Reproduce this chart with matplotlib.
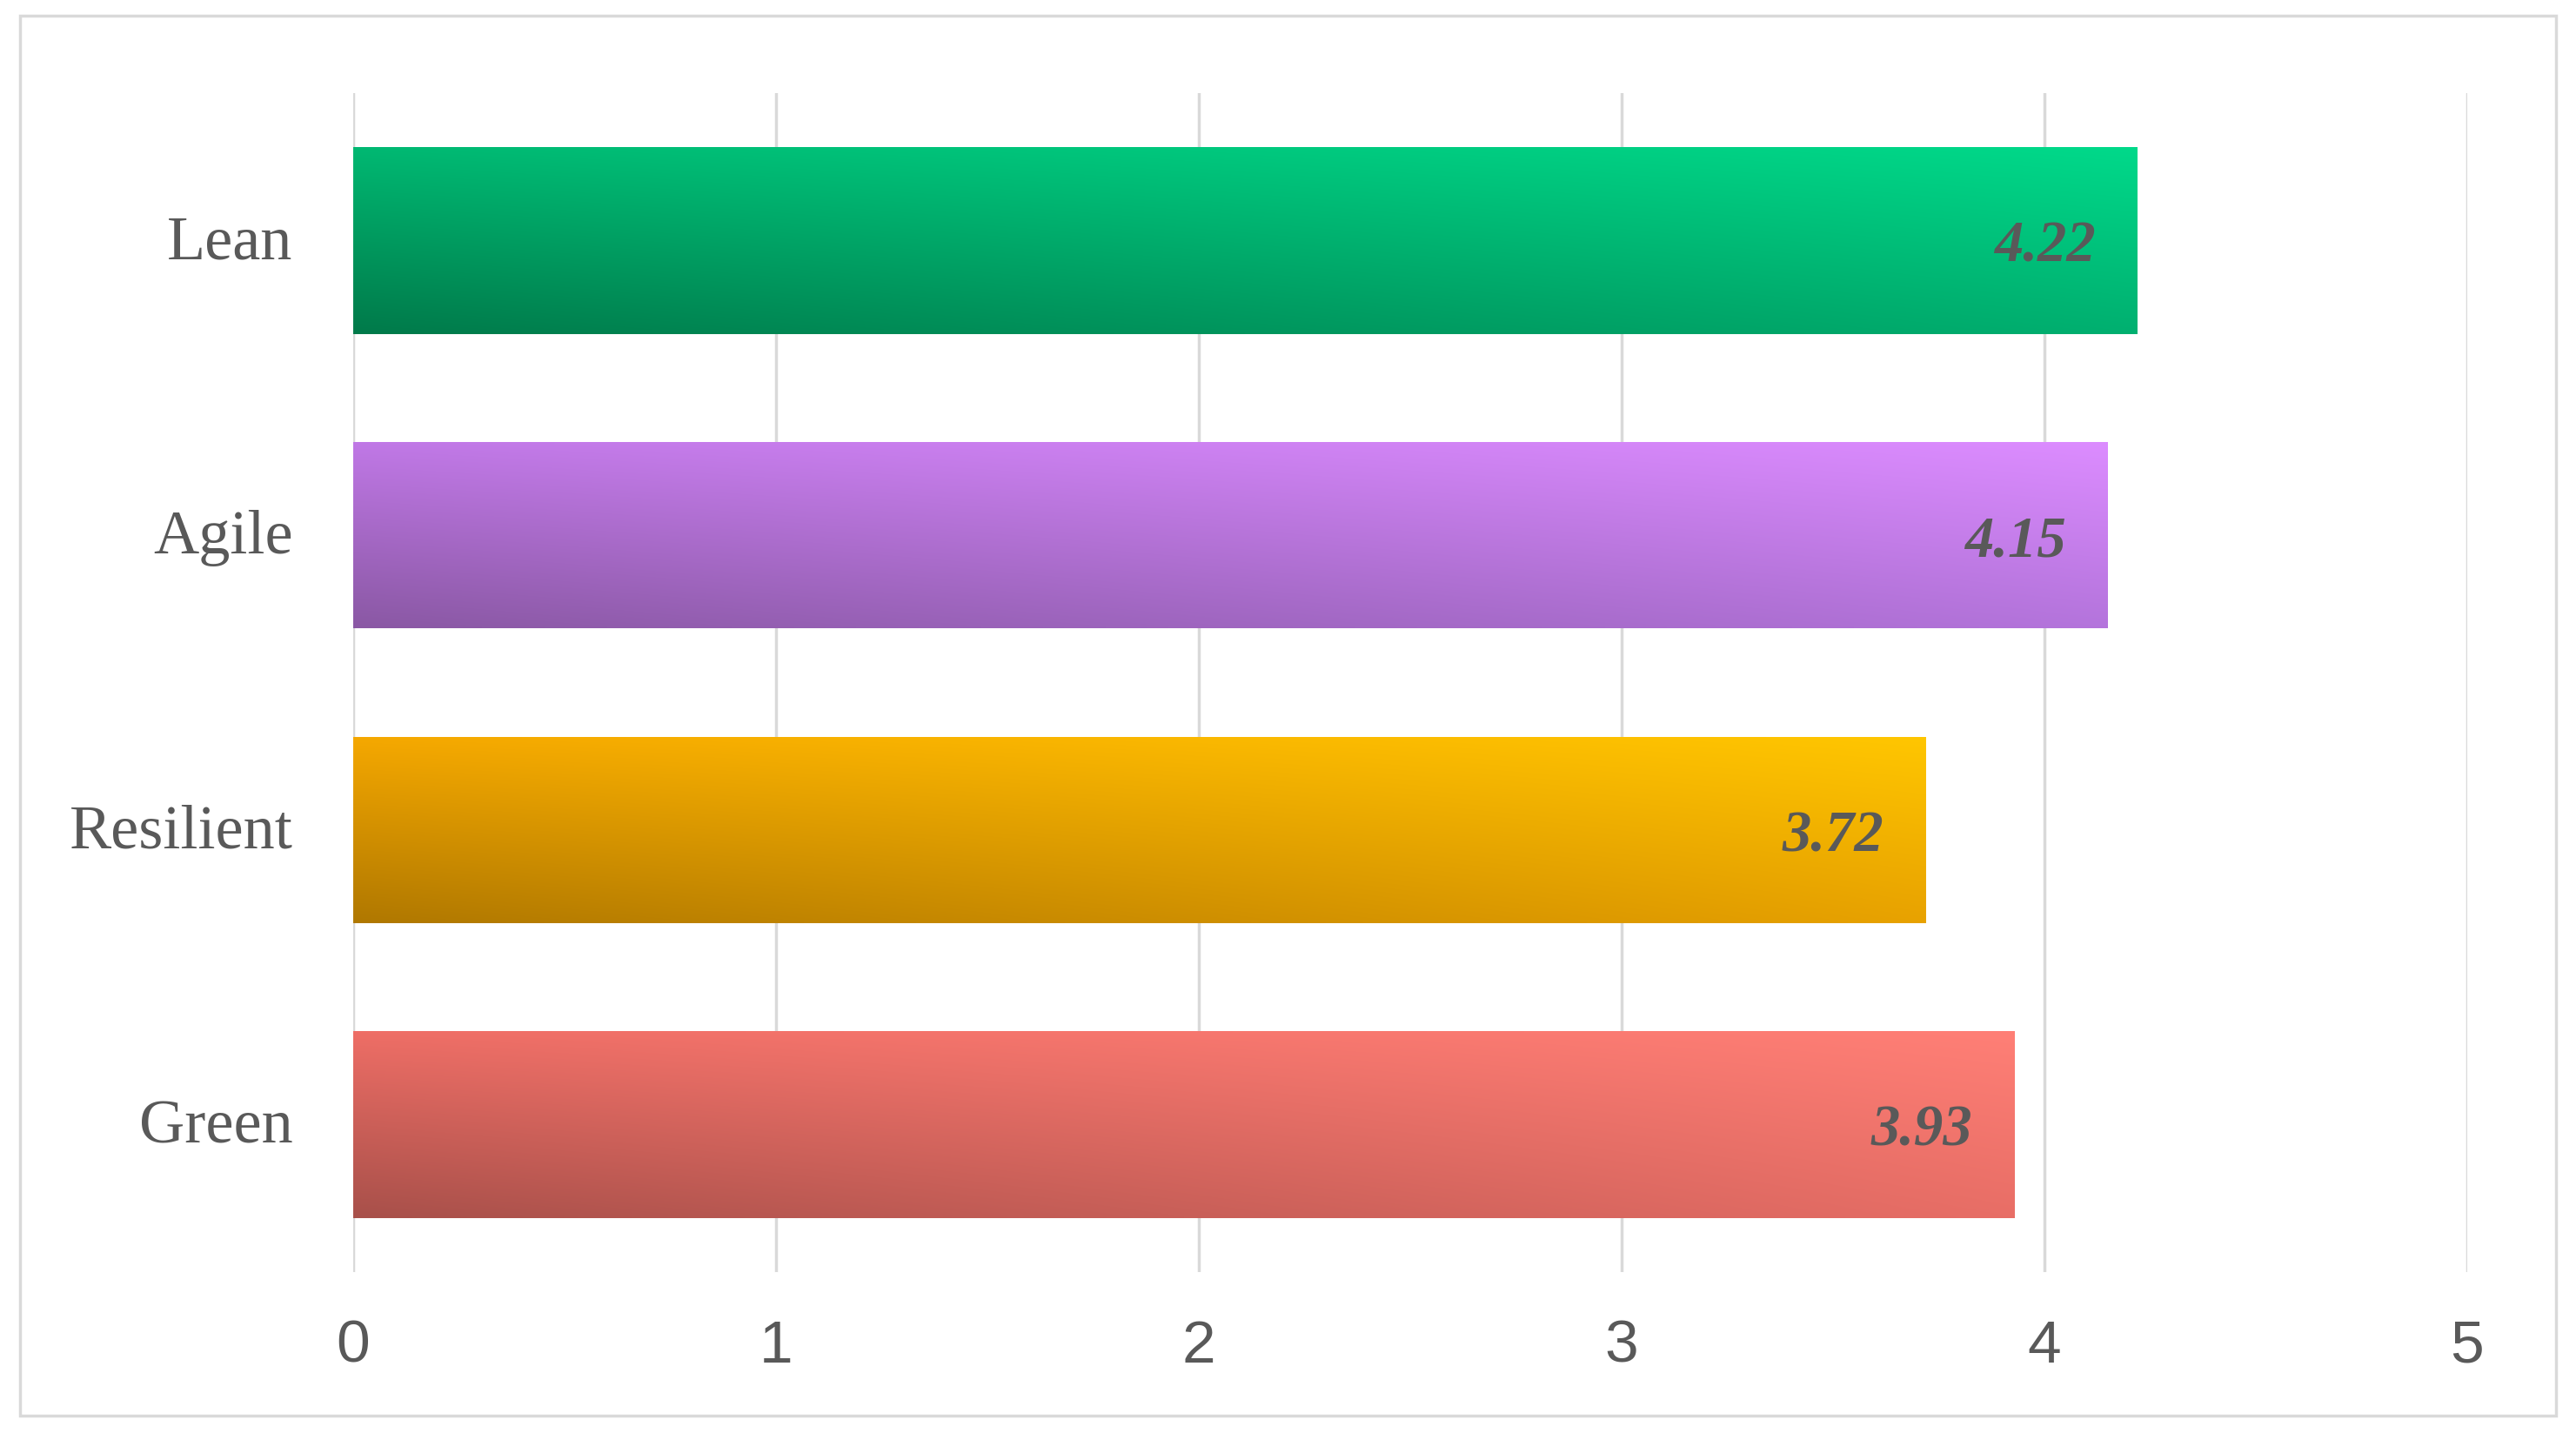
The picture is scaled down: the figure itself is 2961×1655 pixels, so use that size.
import matplotlib
matplotlib.use('Agg')
import matplotlib.pyplot as plt
import matplotlib.colors as mcolors
import numpy as np
from matplotlib.patches import Rectangle

# data
categories = ['Green', 'Resilient', 'Agile', 'Lean']
scores = [3.93, 3.72, 4.15, 4.22]
x_ticks = [0, 1, 2, 3, 4, 5]

# gradient corners per bar: top-left, top-right, bottom-left, bottom-right
corner_colors = {
    'Lean': ['#00b872', '#00d98a', '#007a4a', '#00b070'],
    'Agile': ['#c078e6', '#dc8cff', '#8a58a4', '#b474dc'],
    'Resilient': ['#f5a800', '#ffc600', '#b07800', '#e8a200'],
    'Green': ['#ee6e66', '#ff7f76', '#a8504a', '#e86e66'],
}

TEXT = '#595959'
GRID = '#d9d9d9'
BAR_H = 0.633


def gradient_image(corners, nx=200, ny=60):
    tl, tr, bl, br = [np.array(mcolors.to_rgb(c)) for c in corners]
    u = np.linspace(0, 1, nx)[None, :, None]
    v = np.linspace(0, 1, ny)[:, None, None]  # 0 bottom, 1 top (origin lower)
    top = tl + (tr - tl) * u
    bot = bl + (br - bl) * u
    return bot + (top - bot) * v


fig = plt.figure(figsize=(29.61, 16.56), dpi=100)
fig.patch.set_facecolor('white')

# outer frame
fig.patches.append(Rectangle((23 / 2961, 1 - 1628 / 1656),
                             (2938 - 23) / 2961, (1628 - 19) / 1656,
                             transform=fig.transFigure, fill=False,
                             edgecolor=GRID, linewidth=2.5))

ax = fig.add_axes([406 / 2961, 1 - 1463 / 1656,
                   (2836 - 406) / 2961, (1463 - 108) / 1656])

ypos = np.arange(len(categories))
for i, (cat, val) in enumerate(zip(categories, scores)):
    bar = ax.barh(i, val, height=BAR_H, color='none', edgecolor='none',
                  zorder=2)[0]
    img = ax.imshow(gradient_image(corner_colors[cat]), origin='lower',
                    extent=[0, val, i - BAR_H / 2, i + BAR_H / 2],
                    aspect='auto', interpolation='bilinear', zorder=2)
    img.set_clip_path(bar)
    ax.text(val - 0.1, i - 0.02, f'{val:.2f}', ha='right', va='center',
            fontsize=48, fontstyle='italic', fontweight='bold',
            family='Liberation Serif', color=TEXT, zorder=3)

ax.set_xlim(0, 5)
ax.set_ylim(-0.5, len(categories) - 0.5)
ax.set_xticks(x_ticks)
ax.set_xticklabels([str(t) for t in x_ticks], fontsize=50,
                   family='Liberation Sans', color=TEXT)
ax.set_yticks(ypos + 0.015)
ax.set_yticklabels(categories, fontsize=52, family='Liberation Serif',
                   color=TEXT)
ax.tick_params(axis='both', length=0)
ax.tick_params(axis='x', pad=38)
ax.tick_params(axis='y', pad=50)
ax.grid(axis='x', color=GRID, linewidth=2.5, zorder=0)
ax.set_axisbelow(True)
for s in ax.spines.values():
    s.set_visible(False)

fig.savefig('out.png', dpi=100)
